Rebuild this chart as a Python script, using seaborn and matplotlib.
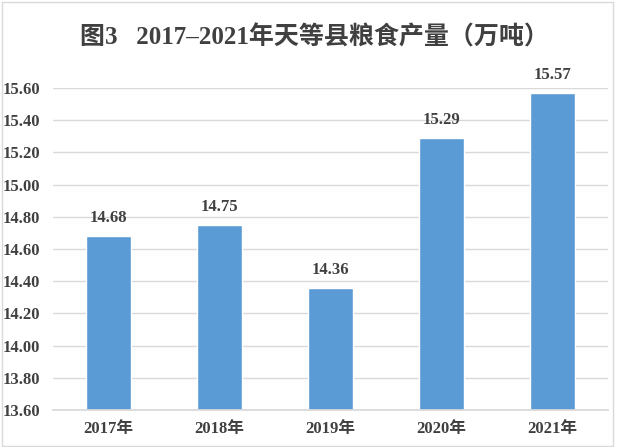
import matplotlib
matplotlib.use("Agg")
import matplotlib.pyplot as plt
import seaborn as sns
import pandas as pd
from matplotlib.patches import Rectangle

years = ["2017年", "2018年", "2019年", "2020年", "2021年"]
output = [14.68, 14.75, 14.36, 15.29, 15.57]
yticks = [13.6, 13.8, 14.0, 14.2, 14.4, 14.6, 14.8, 15.0, 15.2, 15.4, 15.6]
title = "图3   2017–2021年天等县粮食产量（万吨）"

df = pd.DataFrame({"year": years, "value": output})

sns.set_theme(style="white")
FAM = ["Liberation Serif", "Noto Sans CJK SC", "DejaVu Sans"]
plt.rcParams["font.family"] = FAM

fig = plt.figure(figsize=(6.28, 4.47), dpi=100)
ax = fig.add_axes([53/628, 37/447, 555/628, 322/447])

sns.barplot(data=df, x="year", y="value", color="#5B9BD5", saturation=1,
            width=0.4, ax=ax)

ax.set_ylim(13.6, 15.6)
ax.set_yticks(yticks)
ax.set_yticklabels([f"{v:.2f}" for v in yticks])
ax.yaxis.grid(True, color="#D9D9D9", linewidth=1)
ax.set_axisbelow(True)
for s in ["top", "right", "left"]:
    ax.spines[s].set_visible(False)
ax.spines["bottom"].set_color("#D9D9D9")
ax.set_xlabel("")
ax.set_ylabel("")
ax.tick_params(axis="both", length=0, colors="#404040")
ax.tick_params(axis="y", pad=9)
ax.tick_params(axis="x", pad=8)
for lab in ax.get_yticklabels() + ax.get_xticklabels():
    lab.set_fontweight("bold")
    lab.set_fontsize(12)
    lab.set_family(FAM)

for i, v in enumerate(output):
    ax.annotate(f"{v:.2f}", (i, v), xytext=(0, 7), textcoords="offset points",
                ha="center", va="bottom", fontsize=12, fontweight="bold",
                color="#404040", clip_on=False, family=FAM)

fig.text(0.5, 1 - 37/447, title, ha="center", va="center", fontsize=18,
         fontweight="bold", color="#404040", family=FAM)

fig.patches.append(Rectangle((2/628, 1/447), 611/628, 444/447, transform=fig.transFigure,
                             fill=False, edgecolor="#D9D9D9", linewidth=1))

fig.savefig("out.png", dpi=100)
